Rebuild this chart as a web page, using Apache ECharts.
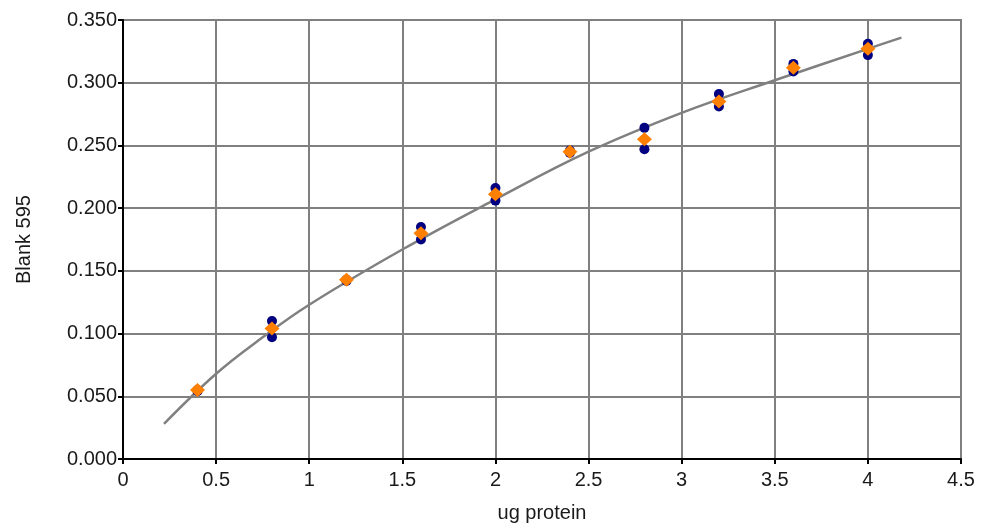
<!DOCTYPE html>
<html>
<head>
<meta charset="utf-8">
<script src="https://cdn.jsdelivr.net/npm/echarts@6/dist/echarts.min.js"></script>
<style>
html,body{margin:0;padding:0;background:#fff;}
#chart{width:982px;height:529px;}
</style>
</head>
<body>
<div id="chart"></div>
<script>
// Replicate measurements (blue)
const repX = [0.4, 0.4, 0.8, 0.8, 1.2, 1.2, 1.6, 1.6, 2.0, 2.0, 2.4, 2.4, 2.8, 2.8, 3.2, 3.2, 3.6, 3.6, 4.0, 4.0];
const repY = [0.055, 0.054, 0.110, 0.097, 0.143, 0.142, 0.185, 0.175, 0.216, 0.206, 0.246, 0.244, 0.264, 0.247, 0.291, 0.281, 0.315, 0.309, 0.331, 0.322];
// Means (orange)
const meanX = [0.4, 0.8, 1.2, 1.6, 2.0, 2.4, 2.8, 3.2, 3.6, 4.0];
const meanY = [0.055, 0.104, 0.143, 0.180, 0.211, 0.245, 0.255, 0.285, 0.312, 0.327];
// Trend curve (grey)
const fitX = [0.22, 0.5, 0.75, 1.0, 1.5, 2.0, 2.5, 3.0, 3.5, 4.0, 4.18];
const fitY = [0.028, 0.068, 0.097, 0.123, 0.167, 0.207, 0.245, 0.276, 0.302, 0.327, 0.336];

const zip = (a, b) => a.map((v, i) => [v, b[i]]);

const chart = echarts.init(document.getElementById('chart'));
const font = 'Liberation Sans, Arial, sans-serif';
const txt = '#1a1a1a';
chart.setOption({
  animation: false,
  grid: {left: 123, right: 21, top: 20, bottom: 70, show: true, borderColor: '#808080', borderWidth: 2},
  xAxis: {
    type: 'value', min: 0, max: 4.5, interval: 0.5,
    name: 'ug protein', nameLocation: 'middle', nameGap: 44,
    nameTextStyle: {fontFamily: font, fontSize: 20, color: txt},
    axisLine: {show: true, onZero: false, lineStyle: {color: '#000', width: 2}},
    axisTick: {show: true, length: 5, lineStyle: {color: '#000', width: 2}},
    axisLabel: {fontFamily: font, fontSize: 20, color: txt, margin: 11},
    splitLine: {show: true, lineStyle: {color: '#808080', width: 2}}
  },
  yAxis: {
    type: 'value', min: 0, max: 0.35, interval: 0.05,
    name: 'Blank 595', nameLocation: 'middle', nameGap: 89, nameRotate: 90,
    nameTextStyle: {fontFamily: font, fontSize: 20, color: txt},
    axisLine: {show: true, onZero: false, lineStyle: {color: '#000', width: 2}},
    axisTick: {show: true, length: 5, lineStyle: {color: '#000', width: 2}},
    axisLabel: {fontFamily: font, fontSize: 20, color: txt, margin: 6,
      formatter: v => v.toFixed(3)},
    splitLine: {show: true, lineStyle: {color: '#808080', width: 2}}
  },
  series: [
    {type: 'line', data: zip(fitX, fitY), smooth: 0.4, showSymbol: false, symbol: 'none',
     lineStyle: {color: '#808080', width: 2.5}, z: 2},
    {type: 'scatter', data: zip(repX, repY), symbol: 'circle', symbolSize: 10,
     itemStyle: {color: '#000080', opacity: 1}, z: 3},
    {type: 'scatter', data: zip(meanX, meanY), symbol: 'diamond', symbolSize: [15, 14],
     itemStyle: {color: '#FF8000', opacity: 1}, z: 4}
  ]
});
</script>
</body>
</html>
